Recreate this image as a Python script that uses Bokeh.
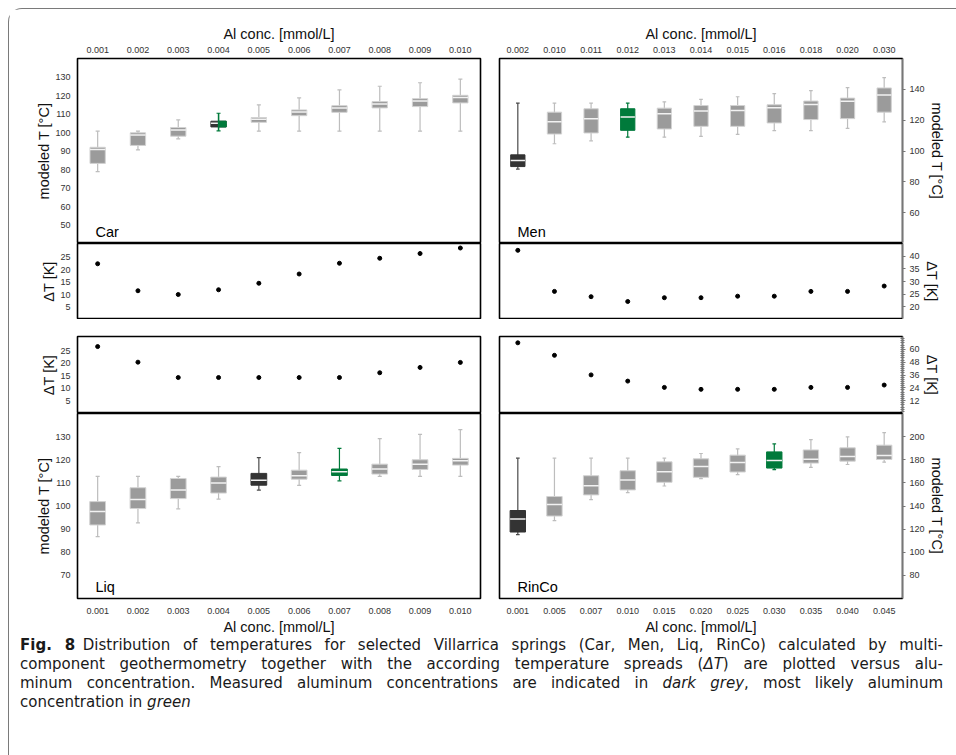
from bokeh.plotting import figure
from bokeh.models import FactorRange, Range1d, FixedTicker, Label, ColumnDataSource, Div
from bokeh.transform import dodge
from bokeh.layouts import column, row
from bokeh.embed import file_html
from bokeh.resources import INLINE

# ---------------- data ----------------
car_al = ["0.001", "0.002", "0.003", "0.004", "0.005", "0.006", "0.007", "0.008", "0.009", "0.010"]
car_whi = [100.7, 100.7, 106.8, 110.4, 114.9, 118.7, 123.0, 125.0, 126.9, 128.9]
car_q3 = [92.0, 99.8, 102.7, 106.1, 108.1, 112.2, 114.5, 116.7, 118.3, 120.1]
car_med = [90.8, 98.7, 101.4, 105.0, 107.2, 111.1, 113.3, 115.4, 117.0, 118.9]
car_q1 = [83.3, 93.0, 98.0, 103.0, 105.5, 109.1, 110.9, 113.3, 114.0, 116.0]
car_wlo = [78.8, 90.6, 96.6, 100.9, 100.7, 100.7, 100.7, 100.7, 100.7, 100.7]
car_dt = [22.3, 11.5, 10.0, 11.9, 14.5, 18.2, 22.5, 24.5, 26.4, 28.6]
car_measured, car_likely = "0.004", "0.004"

men_al = ["0.002", "0.010", "0.011", "0.012", "0.013", "0.014", "0.015", "0.016", "0.018", "0.020", "0.030"]
men_whi = [131.1, 131.1, 131.1, 131.1, 131.9, 133.5, 135.2, 137.2, 139.1, 141.1, 147.6]
men_q3 = [97.5, 125.2, 127.4, 127.4, 127.8, 129.5, 129.5, 130.0, 132.4, 134.3, 140.9]
men_med = [93.8, 118.9, 121.0, 122.1, 124.1, 126.0, 126.3, 128.0, 130.2, 132.2, 136.3]
men_q1 = [89.9, 111.0, 111.7, 113.4, 114.3, 116.0, 116.0, 118.2, 120.4, 121.0, 125.2]
men_wlo = [88.3, 104.7, 106.6, 109.0, 109.0, 109.5, 110.8, 113.2, 113.2, 114.7, 118.9]
men_dt = [42.3, 26.1, 24.0, 22.1, 23.6, 23.6, 24.2, 24.2, 26.1, 26.1, 28.2]
men_measured, men_likely = "0.002", "0.012"

liq_al = ["0.001", "0.002", "0.003", "0.004", "0.005", "0.006", "0.007", "0.008", "0.009", "0.010"]
liq_whi = [112.8, 112.8, 112.8, 117.0, 120.9, 123.1, 124.9, 129.1, 131.0, 133.0]
liq_q3 = [101.9, 107.9, 111.9, 112.5, 114.1, 115.5, 116.0, 118.1, 120.0, 120.6]
liq_med = [97.6, 102.8, 106.9, 109.9, 111.1, 113.1, 114.8, 116.0, 118.1, 119.6]
liq_q1 = [91.8, 98.9, 103.2, 105.6, 109.0, 111.6, 113.2, 113.8, 115.8, 117.7]
liq_wlo = [86.8, 92.7, 98.8, 103.0, 106.9, 108.9, 110.9, 112.8, 112.8, 112.8]
liq_dt = [26.6, 20.4, 14.3, 14.3, 14.3, 14.3, 14.3, 16.2, 18.3, 20.3]
liq_measured, liq_likely = "0.005", "0.007"

rin_al = ["0.001", "0.005", "0.007", "0.010", "0.015", "0.020", "0.025", "0.030", "0.035", "0.040", "0.045"]
rin_whi = [181.4, 181.4, 181.4, 181.4, 181.4, 185.4, 189.4, 193.7, 197.4, 199.7, 203.4]
rin_q3 = [136.1, 148.2, 166.2, 170.5, 178.2, 180.8, 184.0, 186.8, 188.5, 190.3, 192.6]
rin_med = [128.7, 141.3, 157.6, 162.5, 169.6, 174.2, 177.7, 179.4, 180.5, 182.8, 183.7]
rin_q1 = [117.5, 131.3, 149.6, 153.9, 160.5, 164.8, 169.4, 172.8, 177.1, 178.8, 180.2]
rin_wlo = [115.2, 127.3, 145.6, 151.6, 157.3, 163.6, 167.1, 171.4, 173.4, 175.9, 177.9]
rin_dt = [66.1, 54.4, 36.1, 30.3, 24.4, 22.6, 22.6, 22.6, 24.4, 24.4, 26.6]
rin_measured, rin_likely = "0.001", "0.030"

car_ticks = [50, 60, 70, 80, 90, 100, 110, 120, 130]
men_ticks = [60, 80, 100, 120, 140]
liq_ticks = [70, 80, 90, 100, 110, 120, 130]
rin_ticks = [80, 100, 120, 140, 160, 180, 200]
dcar_ticks = [5, 10, 15, 20, 25]
dmen_ticks = [20, 25, 30, 35, 40]
dliq_ticks = [5, 10, 15, 20, 25]
drin_ticks = [12, 24, 36, 48, 60]

XLABEL = "Al conc. [mmol/L]"
TLABEL = "modeled T [°C]"
DLABEL = "ΔT [K]"

# ---------------- style ----------------
GREY = "#9b9b9b"
EDGE = "#d2d2d2"
WHISK = "#bdbdbd"
DARK = "#333333"
DARKW = "#4a4a4a"
GREEN = "#007a3b"
FONT = "Liberation Sans"

LW, RW = 480, 465
LB = dict(l=68, r=9)
RB = dict(l=10, r=52)


def style_axes(p):
    for ax in p.axis:
        ax.major_label_text_font = FONT
        ax.major_label_text_font_size = "9px"
        ax.major_label_text_color = "#333333"
        ax.axis_label_text_font = FONT
        ax.axis_label_text_font_size = "14.5px"
        ax.axis_label_text_font_style = "normal"
        ax.axis_label_text_color = "#111111"
        ax.minor_tick_line_color = None
        ax.minor_tick_out = 0
        ax.minor_tick_in = 0


def make_fig(cats, yr, width, height, b, top, bottom, xloc, yloc):
    p = figure(width=width, height=height,
               x_range=FactorRange(factors=cats, range_padding=0),
               y_range=Range1d(*yr),
               x_axis_location=xloc, y_axis_location=yloc,
               output_backend="svg", toolbar_location=None,
               min_border_left=b["l"], min_border_right=b["r"],
               min_border_top=top, min_border_bottom=bottom)
    p.xgrid.visible = False
    p.ygrid.visible = False
    p.outline_line_color = "black"
    p.outline_line_width = 1.6
    p.outline_line_alpha = 1
    p.background_fill_color = "white"
    p.border_fill_color = "white"
    style_axes(p)
    if xloc is not None:
        p.xaxis.axis_line_color = None
        p.xaxis.major_tick_line_color = None
        p.xaxis.major_tick_out = 0
        p.xaxis.major_tick_in = 0
        p.xaxis.major_label_standoff = 6 if xloc == "above" else 9
        p.xaxis.axis_label_standoff = 2
        p.xaxis.axis_label = XLABEL
    if yloc == "left":
        p.yaxis.axis_line_color = None
        p.yaxis.major_tick_line_color = None
        p.yaxis.major_tick_out = 0
        p.yaxis.major_tick_in = 0
        p.yaxis.major_label_standoff = 7
        p.yaxis.axis_label_standoff = 0
    else:
        p.yaxis.axis_line_color = "#777777"
        p.yaxis.major_tick_line_color = "#777777"
        p.yaxis.major_tick_out = 3
        p.yaxis.major_tick_in = 0
        p.yaxis.major_label_standoff = 4
        p.yaxis.axis_label_standoff = 1
    return p


def add_boxes(p, cats, wlo, q1, med, q3, whi, measured, likely, w):
    fill = [DARK if c == measured else (GREEN if c == likely else GREY) for c in cats]
    edge = [DARK if c == measured else (GREEN if c == likely else EDGE) for c in cats]
    wcol = [GREEN if c == likely else (DARKW if c == measured else WHISK) for c in cats]
    src = ColumnDataSource(dict(x=cats, lo=wlo, q1=q1, med=med, q3=q3, hi=whi,
                                fill=fill, edge=edge, wcol=wcol))
    cw = 0.1
    p.segment(x0="x", y0="lo", x1="x", y1="hi", line_color="wcol", line_width=1.2, source=src)
    p.segment(x0=dodge("x", -cw / 2, range=p.x_range), y0="hi",
              x1=dodge("x", cw / 2, range=p.x_range), y1="hi",
              line_color="wcol", line_width=1.2, source=src)
    p.segment(x0=dodge("x", -cw / 2, range=p.x_range), y0="lo",
              x1=dodge("x", cw / 2, range=p.x_range), y1="lo",
              line_color="wcol", line_width=1.2, source=src)
    p.vbar(x="x", bottom="q1", top="q3", width=w, fill_color="fill",
           line_color="edge", line_width=1, source=src)
    p.segment(x0=dodge("x", -w / 2, range=p.x_range), y0="med",
              x1=dodge("x", w / 2, range=p.x_range), y1="med",
              line_color="#f2f2f2", line_width=1.5, source=src)
    if measured == likely:
        i = cats.index(likely)
        s2 = ColumnDataSource(dict(x=[cats[i]], lo=[wlo[i]], q1=[q1[i]], q3=[q3[i]], hi=[whi[i]]))
        p.vbar(x=dodge("x", w / 4, range=p.x_range), bottom="q1", top="q3", width=w / 2,
               fill_color=GREEN, line_color=GREEN, line_width=1, source=s2)
        p.segment(x0="x", y0="lo", x1="x", y1="hi", line_color=GREEN, line_width=1.4, source=s2)


def add_name(p, text, y0):
    p.add_layout(Label(x=0, y=y0, x_offset=18, y_offset=4, text=text,
                       text_font=FONT, text_font_size="14.5px", text_color="black",
                       text_baseline="bottom"))


# ---------------- row 1: Car / Men ----------------
f_car = make_fig(car_al, (40, 140), LW, 234, LB, 49, 0, "above", "left")
f_car.yaxis.axis_label = TLABEL
f_car.yaxis.ticker = FixedTicker(ticks=car_ticks)
add_boxes(f_car, car_al, car_wlo, car_q1, car_med, car_q3, car_whi, car_measured, car_likely, 0.38)
add_name(f_car, "Car", 40)

f_men = make_fig(men_al, (40, 160), RW, 234, RB, 49, 0, "above", "right")
f_men.yaxis.axis_label = TLABEL
f_men.yaxis.ticker = FixedTicker(ticks=men_ticks)
add_boxes(f_men, men_al, men_wlo, men_q1, men_med, men_q3, men_whi, men_measured, men_likely, 0.39)
add_name(f_men, "Men", 40)

# ---------------- row 2: delta Car / Men ----------------
f_dcar = make_fig(car_al, (0, 30.4), LW, 76, LB, 0, 0, None, "left")
f_dcar.yaxis.axis_label = DLABEL
f_dcar.yaxis.ticker = FixedTicker(ticks=dcar_ticks)
f_dcar.scatter(x=car_al, y=car_dt, size=4, color="black")

f_dmen = make_fig(men_al, (15, 45), RW, 76, RB, 0, 0, None, "right")
f_dmen.yaxis.axis_label = DLABEL
f_dmen.yaxis.ticker = FixedTicker(ticks=dmen_ticks)
f_dmen.scatter(x=men_al, y=men_dt, size=4, color="black")

# ---------------- row 3: delta Liq / RinCo ----------------
f_dliq = make_fig(liq_al, (0, 30.6), LW, 94, LB, 17, 0, None, "left")
f_dliq.yaxis.axis_label = DLABEL
f_dliq.yaxis.ticker = FixedTicker(ticks=dliq_ticks)
f_dliq.scatter(x=liq_al, y=liq_dt, size=4, color="black")

f_drin = make_fig(rin_al, (0, 72), RW, 94, RB, 17, 0, None, "right")
f_drin.yaxis.axis_label = DLABEL
f_drin.yaxis.ticker = FixedTicker(ticks=drin_ticks, minor_ticks=list(range(2, 72, 2)))
f_drin.yaxis.minor_tick_line_color = "#777777"
f_drin.yaxis.minor_tick_out = 2
f_drin.yaxis.minor_tick_in = 2
f_drin.scatter(x=rin_al, y=rin_dt, size=4, color="black")

# ---------------- row 4: Liq / RinCo ----------------
f_liq = make_fig(liq_al, (60, 140), LW, 225, LB, 0, 40, "below", "left")
f_liq.yaxis.axis_label = TLABEL
f_liq.yaxis.ticker = FixedTicker(ticks=liq_ticks)
add_boxes(f_liq, liq_al, liq_wlo, liq_q1, liq_med, liq_q3, liq_whi, liq_measured, liq_likely, 0.39)
add_name(f_liq, "Liq", 60)

f_rin = make_fig(rin_al, (60, 220), RW, 225, RB, 0, 40, "below", "right")
f_rin.yaxis.axis_label = TLABEL
f_rin.yaxis.ticker = FixedTicker(ticks=rin_ticks)
add_boxes(f_rin, rin_al, rin_wlo, rin_q1, rin_med, rin_q3, rin_whi, rin_measured, rin_likely, 0.42)
add_name(f_rin, "RinCo", 60)

# ---------------- caption ----------------
line_style = "text-align:justify;text-align-last:justify;margin:0;padding:0;"
caption_html = (
    "<div style=\"font-family:'DejaVu Sans';font-size:15px;line-height:19px;"
    "color:#1a1a1a;width:929px;padding-left:6px;margin-top:-7px;\">"
    f"<div style=\"{line_style}\"><b>Fig. 8</b>&ensp;Distribution of temperatures for selected "
    "Villarrica springs (Car, Men, Liq, RinCo) calculated by multi-</div>"
    f"<div style=\"{line_style}\">component geothermometry together with the according temperature "
    "spreads (<i>ΔT</i>) are plotted versus alu-</div>"
    f"<div style=\"{line_style}\">minum concentration. Measured aluminum concentrations are indicated "
    "in <i>dark grey</i>, most likely aluminum</div>"
    "<div style=\"margin:0;padding:0;\">concentration in <i>green</i></div>"
    "</div>"
)
caption = Div(text=caption_html, width=945, height=114)

layout = column(
    row(f_car, f_men),
    row(f_dcar, f_dmen),
    row(f_dliq, f_drin),
    row(f_liq, f_rin),
    caption,
    styles={"border-top": "1.5px solid #7a7a7a", "border-left": "1.5px solid #7a7a7a",
            "border-top-left-radius": "14px", "background": "white",
            "margin-left": "8px", "margin-top": "8px"},
)

open("out.html", "w").write(file_html(layout, INLINE))
